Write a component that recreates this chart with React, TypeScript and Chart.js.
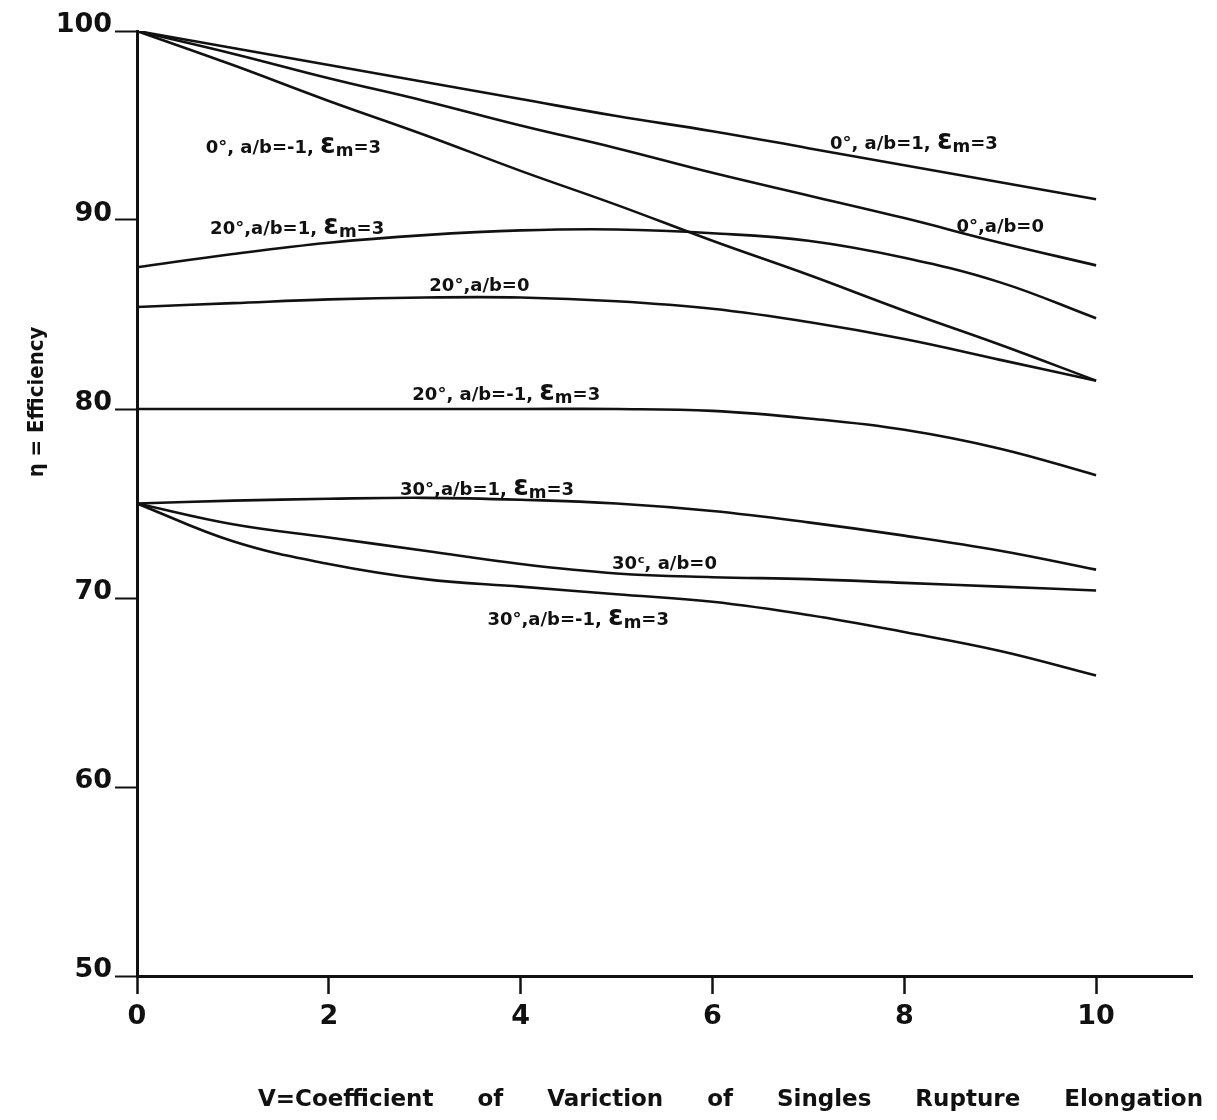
import React, { useEffect, useRef } from "react";
import { Chart, registerables } from "chart.js";

Chart.register(...registerables);

// ---- data ----
const xValues = [0, 1, 2, 3, 4, 5, 6, 7, 8, 9, 10];
const xTickValues = [0, 2, 4, 6, 8, 10];
const yTickValues = [50, 60, 70, 80, 90, 100];

const deg0_ab1 = [100, 99.1, 98.2, 97.3, 96.4, 95.5, 94.7, 93.8, 92.9, 92.0, 91.1];
const deg0_ab0 = [100, 98.8, 97.5, 96.3, 95.0, 93.8, 92.5, 91.3, 90.1, 88.8, 87.6];
const deg0_abm1 = [100, 98.2, 96.3, 94.5, 92.6, 90.8, 88.9, 87.1, 85.2, 83.4, 81.5];
const deg20_ab1 = [87.5, 88.2, 88.8, 89.2, 89.45, 89.5, 89.3, 88.9, 88.0, 86.7, 84.8];
const deg20_ab0 = [85.4, 85.6, 85.8, 85.9, 85.9, 85.7, 85.3, 84.6, 83.7, 82.6, 81.5];
const deg20_abm1 = [80.0, 80.0, 80.0, 80.0, 80.0, 80.0, 79.9, 79.5, 78.9, 77.9, 76.5];
const deg30_ab1 = [75.0, 75.15, 75.25, 75.3, 75.2, 75.0, 74.6, 74.0, 73.3, 72.5, 71.5];
const deg30_ab0 = [75.0, 73.9, 73.2, 72.5, 71.8, 71.3, 71.1, 71.0, 70.8, 70.6, 70.4];
const deg30_abm1 = [75.0, 73.0, 71.8, 71.0, 70.6, 70.2, 69.8, 69.1, 68.2, 67.2, 65.9];

const seriesList = [
  { name: "0°, a/b=1, εm=3", values: deg0_ab1 },
  { name: "0°, a/b=0", values: deg0_ab0 },
  { name: "0°, a/b=-1, εm=3", values: deg0_abm1 },
  { name: "20°, a/b=1, εm=3", values: deg20_ab1 },
  { name: "20°, a/b=0", values: deg20_ab0 },
  { name: "20°, a/b=-1, εm=3", values: deg20_abm1 },
  { name: "30°, a/b=1, εm=3", values: deg30_ab1 },
  { name: "30°, a/b=0", values: deg30_ab0 },
  { name: "30°, a/b=-1, εm=3", values: deg30_abm1 },
];

// curve labels: text pieces and anchor (data coordinates of text centre)
const EPS = [["ε", "big"], ["m", "sub"], ["=3", ""]];
const curveLabels = [
  { parts: [["0°, a/b=-1, ", ""], ...EPS], x: 1.63, y: 93.9 },
  { parts: [["0°, a/b=1, ", ""], ...EPS], x: 8.1, y: 94.15 },
  { parts: [["20°,a/b=1, ", ""], ...EPS], x: 1.67, y: 89.65 },
  { parts: [["0°,a/b=0", ""]], x: 9.0, y: 89.75 },
  { parts: [["20°,a/b=0", ""]], x: 3.57, y: 86.6 },
  { parts: [["20°, a/b=-1, ", ""], ...EPS], x: 3.85, y: 80.85 },
  { parts: [["30°,a/b=1, ", ""], ...EPS], x: 3.65, y: 75.8 },
  { parts: [["30ᶜ, a/b=0", ""]], x: 5.5, y: 71.9 },
  { parts: [["30°,a/b=-1, ", ""], ...EPS], x: 4.6, y: 68.95 },
];

const yTitle = "η = Efficiency";
const xTitleWords = ["V=Coefficient", "of", "Variction", "of", "Singles", "Rupture", "Elongation"];

const LABEL_FONT = "DejaVu Sans";

const labelsPlugin = {
  id: "curveLabels",
  afterDraw(chart: any) {
    const ctx = chart.ctx;
    const xs = chart.scales.x;
    const ys = chart.scales.y;
    ctx.save();
    ctx.fillStyle = "#111";
    ctx.textBaseline = "alphabetic";
    const fontFor = (kind: string) =>
      kind === "big"
        ? `bold 28px ${LABEL_FONT}`
        : kind === "sub"
        ? `bold 17px ${LABEL_FONT}`
        : `bold 18px ${LABEL_FONT}`;
    for (const lab of curveLabels) {
      let total = 0;
      for (const [t, k] of lab.parts) {
        ctx.font = fontFor(k);
        total += ctx.measureText(t).width;
      }
      let px = xs.getPixelForValue(lab.x) - total / 2;
      const base = ys.getPixelForValue(lab.y) + 7;
      ctx.textAlign = "left";
      for (const [t, k] of lab.parts) {
        ctx.font = fontFor(k);
        const dy = k === "sub" ? 3 : 0;
        ctx.fillText(t, px, base + dy);
        px += ctx.measureText(t).width;
      }
    }

    // y axis title
    ctx.save();
    ctx.translate(29, 394);
    ctx.rotate(-Math.PI / 2);
    ctx.font = `bold 22px "DejaVu Sans Condensed", "DejaVu Sans"`;
    ctx.textAlign = "center";
    ctx.textBaseline = "middle";
    ctx.fillText(yTitle, 0, 0);
    ctx.restore();

    // x axis title, spread across the width
    ctx.font = `bold 23px "DejaVu Sans"`;
    ctx.textAlign = "left";
    ctx.textBaseline = "middle";
    const left = 250;
    const right = 1195;
    const widths = xTitleWords.map((w) => ctx.measureText(w).width);
    const sum = widths.reduce((a, b) => a + b, 0);
    const gap = (right - left - sum) / (xTitleWords.length - 1);
    let cx = left;
    xTitleWords.forEach((w, i) => {
      ctx.fillText(w, cx, 1092);
      cx += widths[i] + gap;
    });
    ctx.restore();
  },
};

export default function App() {
  const canvasRef = useRef<HTMLCanvasElement | null>(null);

  useEffect(() => {
    const canvas = canvasRef.current;
    if (!canvas) return;
    const chart = new Chart(canvas, {
      type: "line",
      data: {
        datasets: seriesList.map((s) => ({
          label: s.name,
          data: s.values.map((v, i) => ({ x: xValues[i], y: v })),
          borderColor: "#111",
          borderWidth: 2.6,
          pointRadius: 0,
          fill: false,
          tension: 0.4,
        })),
      },
      options: {
        responsive: false,
        animation: false,
        layout: { padding: { left: 29, right: 17, top: 23, bottom: 0 } },
        plugins: {
          legend: { display: false },
          tooltip: { enabled: false },
          title: { display: false },
        },
        scales: {
          x: {
            type: "linear",
            min: 0,
            max: 11,
            afterBuildTicks: (scale: any) => {
              scale.ticks = xTickValues.map((v) => ({ value: v }));
            },
            afterFit: (scale: any) => {
              scale.height = 136;
            },
            grid: {
              display: true,
              drawOnChartArea: false,
              drawTicks: true,
              tickLength: 18,
              tickWidth: 2.5,
              tickColor: "#111",
            },
            border: { display: true, color: "#111", width: 3 },
            ticks: {
              color: "#111",
              padding: 7,
              font: { family: "DejaVu Sans", size: 27, weight: "bold" },
            },
          },
          y: {
            type: "linear",
            min: 50,
            max: 100,
            afterBuildTicks: (scale: any) => {
              scale.ticks = yTickValues.map((v) => ({ value: v }));
            },
            afterFit: (scale: any) => {
              scale.width = 100;
            },
            grid: {
              display: true,
              drawOnChartArea: false,
              drawTicks: true,
              tickLength: 22,
              tickWidth: 2,
              tickColor: "#111",
            },
            border: { display: true, color: "#111", width: 3 },
            ticks: {
              color: "#111",
              padding: 3,
              labelOffset: -6,
              font: { family: "DejaVu Sans", size: 27, weight: "bold" },
            },
          },
        },
      },
      plugins: [labelsPlugin],
    });
    return () => chart.destroy();
  }, []);

  return (
    <canvas
      ref={canvasRef}
      width={1201}
      height={1104}
      style={{ display: "block", width: 1201, height: 1104 }}
    />
  );
}
